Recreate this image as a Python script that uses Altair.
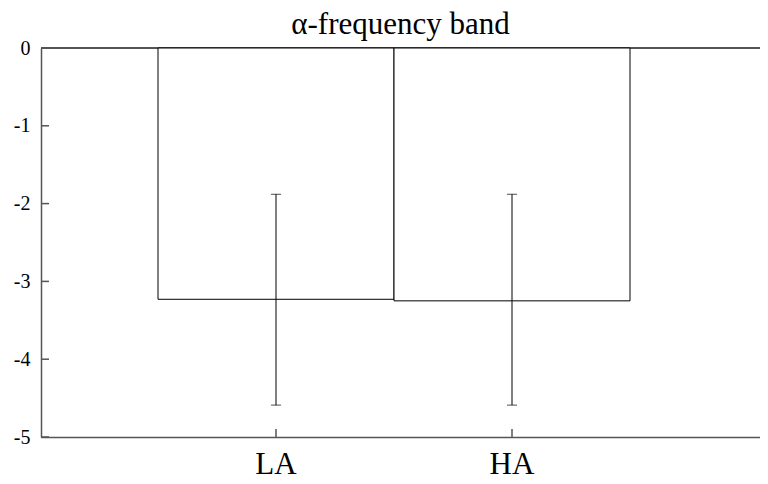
import altair as alt
import pandas as pd

categories = ["LA", "HA"]
means = [-3.23, -3.25]
err_upper = [-1.88, -1.88]
err_lower = [-4.59, -4.59]
y_ticks = [0, -1, -2, -3, -4, -5]

df = pd.DataFrame({"cond": categories, "mean": means, "hi": err_upper, "lo": err_lower})
ticks_df = pd.DataFrame({"t": y_ticks})

W, H = 719, 389
FONT = "Liberation Serif"
AX = "#555555"

xscale = alt.Scale(domain=categories, paddingInner=0, paddingOuter=0.5233, align=0.4737)
yscale = alt.Scale(domain=[-5, 0], nice=False, zero=False)

x_enc = alt.X("cond:N", scale=xscale, sort=categories, title=None)

base = alt.Chart(df)

bars = base.mark_bar(fill="white", stroke="black", strokeWidth=1).encode(
    x=x_enc,
    y=alt.Y("mean:Q", scale=yscale, title=None,
            axis=alt.Axis(values=y_ticks, labelExpr="'' + datum.value")),
    y2=alt.datum(0),
)

err_line = base.mark_rule(color="black", strokeWidth=1).encode(
    x=x_enc,
    y=alt.Y("lo:Q", scale=yscale, title=None),
    y2="hi:Q",
)
cap_hi = base.mark_tick(color="black", size=10, thickness=1).encode(
    x=x_enc,
    y=alt.Y("hi:Q", scale=yscale, title=None),
)
cap_lo = base.mark_tick(color="black", size=10, thickness=1).encode(
    x=x_enc,
    y=alt.Y("lo:Q", scale=yscale, title=None),
)

xticks = base.mark_rule(color=AX, strokeWidth=1.5).encode(
    x=x_enc,
    y=alt.value(H - 8),
    y2=alt.value(H),
)

yticks = alt.Chart(ticks_df).mark_rule(color=AX, strokeWidth=1.5).encode(
    y=alt.Y("t:Q", scale=yscale, title=None),
    x=alt.value(0),
    x2=alt.value(8),
)

top_line = alt.Chart(ticks_df).mark_rule(color=AX, strokeWidth=1.5).encode(
    y=alt.value(0),
    x=alt.value(0),
    x2=alt.value(W),
)

chart = alt.layer(top_line, bars, err_line, cap_hi, cap_lo, xticks, yticks).properties(
    width=W,
    height=H,
    title=alt.Title("α-frequency band", font=FONT, fontSize=31, fontWeight="normal",
                    color="#000", offset=0, dy=3),
    autosize=alt.AutoSizeParams(type="none"),
    padding={"left": 33, "top": 40, "right": 0, "bottom": 38},
).configure(background="white").configure_view(stroke=None).configure_axis(
    labelFont=FONT, labelColor="#000", ticks=False, grid=False, domain=True,
    domainColor=AX, domainWidth=1.5,
).configure_axisX(
    labelAngle=0, labelFontSize=31, labelPadding=12,
).configure_axisY(
    labelFontSize=20, labelPadding=11,
)

chart.save("out.html", embed_options={"renderer": "svg", "actions": False})
